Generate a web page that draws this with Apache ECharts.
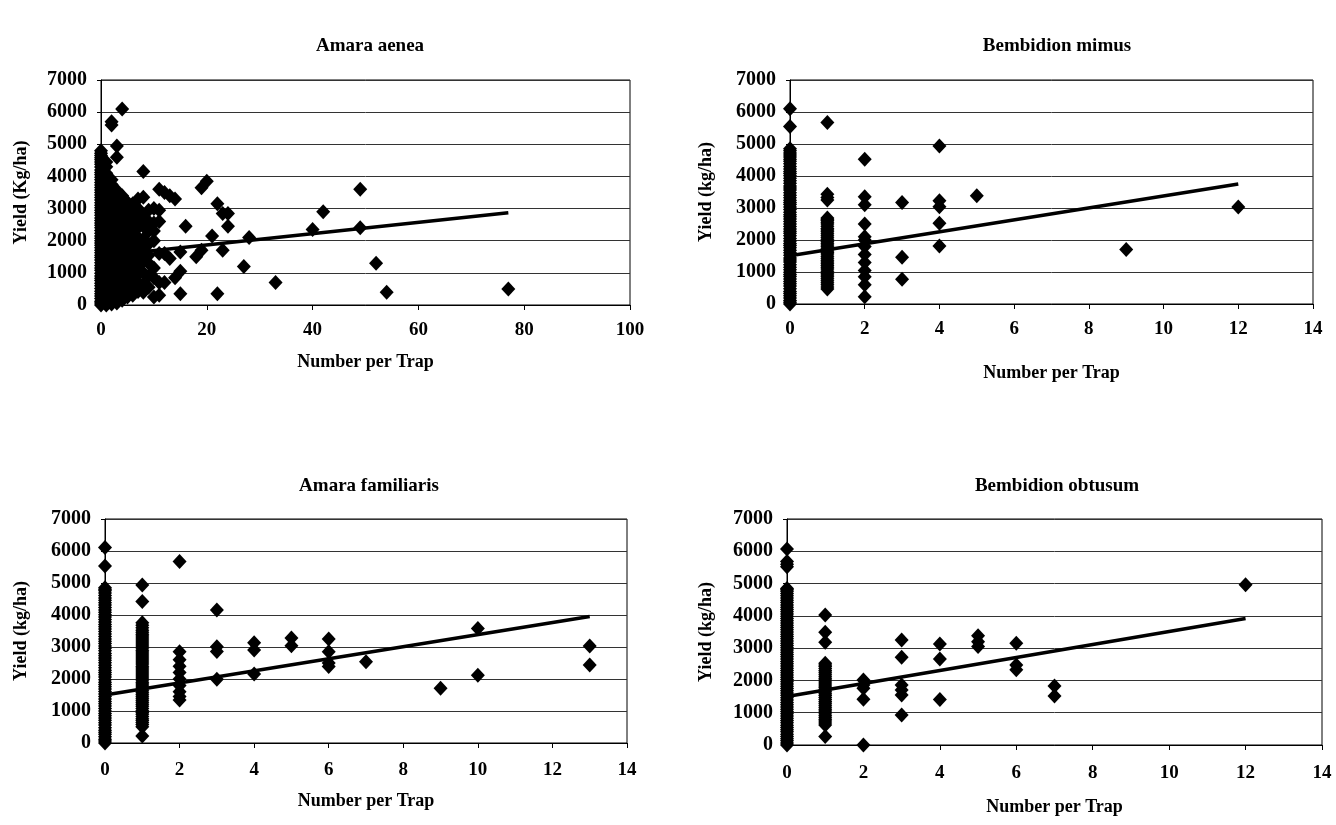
<!DOCTYPE html>
<html><head><meta charset="utf-8">
<script src="https://cdn.jsdelivr.net/npm/echarts/dist/echarts.min.js"></script>
<style>html,body{margin:0;padding:0;background:#fff}#c{width:1336px;height:825px}</style>
</head><body><div id="c"></div>
<script>
// ---------- DATA ----------
const titles = ['Amara aenea', 'Bembidion mimus', 'Amara familiaris', 'Bembidion obtusum'];
const yNames = ['Yield (Kg/ha)', 'Yield (kg/ha)', 'Yield (kg/ha)', 'Yield (kg/ha)'];
const xName = 'Number per Trap';
const xMax = [100, 14, 14, 14];
const xStep = [20, 2, 2, 2];
const yMax = 7000, yStep = 1000;

// Amara aenea: [number per trap, yields...]
const aeneaCols = [
  [0, [0,120,280,430,600,760,900,1080,1230,1400,1550,1700,1860,2000,2150,2320,2480,2630,2790,2950,3100,3270,3420,3580,3730,3900,4050,4200,4380,4520,4650,4800]],
  [0, [60,200,350,515,680,830,990,1155,1315,1475,1625,1780,1930,2075,2235,2400,2555,2710,2870,3025,3185,3345,3500,3655,3815,3975,4125,4290,4450,4585,4725]],
  [1, [0,180,350,520,680,850,1020,1180,1350,1500,1680,1840,2000,2170,2330,2500,2650,2820,2980,3150,3300,3480,3640,3800,3950,4100,4300,4450]],
  [2, [30,200,380,550,720,900,1060,1230,1400,1570,1740,1900,2080,2250,2420,2580,2750,2920,3080,3250,3420,3580,3750,3900,5600,5700]],
  [3, [60,240,420,600,770,950,1120,1300,1470,1650,1820,2000,2170,2350,2520,2700,2870,3050,3220,3400,3560,4600,4950]],
  [4, [150,330,520,700,880,1060,1240,1420,1600,1780,1960,2140,2320,2500,2680,2860,3040,3220,3400,6100]],
  [5, [250,450,650,850,1050,1250,1450,1650,1850,2050,2250,2450,2650,2850,3050,3200]],
  [6, [300,520,740,960,1180,1400,1620,1840,2060,2280,2500,2720,2950,3150]],
  [7, [420,700,950,1250,1500,1800,2100,2400,2700,3000,3300]],
  [8, [400,650,1000,1350,1700,2050,2450,2800,3350,4150]],
  [9, [550,900,1300,1550,1900,2300,2600,2950]],
  [10, [250,850,1150,2000,2300,2550,3000]],
  [11, [300,700,1600,2600,2950,3600]],
  [12, [700,1600,3500]],
  [13, [1450,3400]],
  [14, [850,3300]],
  [15, [350,1050,1650]],
  [16, [2450]],
  [18, [1500]],
  [19, [1700,3650]],
  [20, [3850]],
  [21, [2150]],
  [22, [350,3150]],
  [23, [1700,2850]],
  [24, [2450,2850]],
  [27, [1200]],
  [28, [2100]],
  [33, [700]],
  [40, [2350]],
  [42, [2900]],
  [49, [2400,3600]],
  [52, [1300]],
  [54, [400]],
  [77, [500]]
];
const mimusCols = [
  [0, [0,110,260,390,560,700,860,990,1150,1310,1440,1600,1760,1890,2050,2210,2340,2500,2660,2790,2950,3110,3240,3400,3560,3690,3850,4010,4140,4300,4460,4590,4720,4850,5550,6100]],
  [0, [55,185,325,475,630,780,925,1070,1230,1375,1520,1680,1825,1970,2130,2275,2420,2580,2725,2870,3030,3175,3320,3480,3625,3770,3930,4075,4220,4380,4525,4655,4790]],
  [1, [470,600,730,850,960,1090,1200,1310,1430,1560,1660,1790,1900,2010,2130,2260,2360,2500,2610,2690,3250,3330,3430,5670]],
  [1, [535,665,790,905,1025,1145,1255,1370,1495,1610,1725,1845,1955,2070,2195,2310,2430,2555,2650]],
  [2, [230,600,850,1050,1300,1550,1800,2000,2100,2500,3100,3350,4520]],
  [3, [770,1460,3170]],
  [4, [1810,2520,3040,3230,4940]],
  [5, [3380]],
  [9, [1700]],
  [12, [3030]]
];
const familiarisCols = [
  [0, [0,120,270,400,560,710,850,1000,1160,1300,1450,1610,1760,1900,2060,2200,2350,2510,2660,2800,2960,3110,3250,3410,3560,3700,3860,4010,4160,4310,4460,4610,4760,4850,5530,6110]],
  [0, [60,195,335,480,635,780,925,1080,1230,1375,1530,1685,1830,1980,2130,2275,2430,2585,2730,2880,3035,3180,3330,3485,3630,3780,3935,4085,4235,4385,4535,4685,4805]],
  [1, [220,510,640,760,900,1010,1150,1270,1400,1520,1650,1780,1900,2030,2160,2280,2400,2530,2660,2780,2900,3030,3160,3280,3400,3520,3760,4420,4940]],
  [1, [575,700,830,955,1080,1210,1335,1460,1585,1715,1840,1965,2095,2220,2340,2465,2595,2720,2840,2965,3095,3220,3340,3460,3600,3680]],
  [2, [1340,1450,1600,1800,2000,2200,2400,2600,2850,5670]],
  [3, [1990,2860,3010,4160]],
  [4, [2160,2910,3130]],
  [5, [3040,3280]],
  [6, [2390,2500,2850,3250]],
  [7, [2540]],
  [9, [1710]],
  [10, [2120,3580]],
  [13, [2440,3030]]
];
const obtusumCols = [
  [0, [0,130,260,410,540,690,830,970,1110,1250,1390,1540,1680,1820,1960,2100,2240,2380,2520,2660,2800,2940,3080,3220,3360,3500,3640,3780,3920,4060,4200,4340,4480,4620,4760,4850,5520,5680,6070]],
  [0, [65,195,335,475,615,760,900,1040,1180,1320,1465,1610,1750,1890,2030,2170,2310,2450,2590,2730,2870,3010,3150,3290,3430,3570,3710,3850,3990,4130,4270,4410,4550,4690,4805,5600]],
  [1, [260,620,740,860,990,1110,1230,1350,1470,1590,1710,1830,1950,2070,2190,2310,2430,2530,3180,3490,4030]],
  [1, [680,800,925,1050,1170,1290,1410,1530,1650,1770,1890,2010,2130,2250,2370,2480]],
  [2, [0,1420,1760,1860,2010]],
  [3, [930,1550,1700,1860,2720,3250]],
  [4, [1410,2660,3130]],
  [5, [3050,3200,3380]],
  [6, [2330,2480,3150]],
  [7, [1520,1830]],
  [12, [4960]]
];
// Trend lines: [x, yield] at both ends
const aeneaTrend = [[0, 1520], [77, 2870]];
const mimusTrend = [[0, 1510], [12, 3750]];
const familiarisTrend = [[0, 1500], [13, 3950]];
const obtusumTrend = [[0, 1500], [12, 3920]];

// ---------- LAYOUT ----------
const allCols = [aeneaCols, mimusCols, familiarisCols, obtusumCols];
const allTrends = [aeneaTrend, mimusTrend, familiarisTrend, obtusumTrend];
const grids = [
  {left: 101, top: 80, width: 529, height: 225},
  {left: 790, top: 80, width: 523, height: 224},
  {left: 105, top: 519, width: 522, height: 224},
  {left: 787, top: 519, width: 535, height: 226}
];
const titlePos = [[365, 32], [1052, 32], [364, 472], [1052, 472]];
const yNameGap = [71, 75, 75, 72];
const xNameGap = [48, 60, 49, 53];
const xLabelMargin = [16, 16, 18, 19];

const FONT = '"Liberation Serif", "Times New Roman", serif';
const txt = (size) => ({fontFamily: FONT, fontWeight: 'bold', fontSize: size, color: '#000'});

function toPoints(cols) {
  const pts = [];
  cols.forEach(([x, ys]) => ys.forEach(y => pts.push([x, y])));
  return pts;
}

const option = {
  animation: false,
  backgroundColor: '#fff',
  title: titles.map((t, i) => ({
    text: t, left: titlePos[i][0], top: titlePos[i][1], textAlign: 'center',
    textStyle: txt(19)
  })),
  grid: grids.map(g => Object.assign({show: true, borderColor: '#000', borderWidth: 1, backgroundColor: 'transparent'}, g)),
  xAxis: grids.map((g, i) => ({
    gridIndex: i, type: 'value', min: 0, max: xMax[i], interval: xStep[i],
    name: xName, nameLocation: 'middle', nameGap: xNameGap[i], nameTextStyle: txt(18),
    axisLine: {show: true, onZero: false, lineStyle: {color: '#000', width: 1}},
    axisTick: {show: true, length: 5, lineStyle: {color: '#000'}},
    axisLabel: Object.assign({margin: xLabelMargin[i], formatter: v => String(v)}, txt(19)),
    splitLine: {show: false}
  })),
  yAxis: grids.map((g, i) => ({
    gridIndex: i, type: 'value', min: 0, max: yMax, interval: yStep,
    name: yNames[i], nameLocation: 'middle', nameGap: yNameGap[i], nameTextStyle: txt(18),
    axisLine: {show: true, onZero: false, lineStyle: {color: '#000', width: 1}},
    axisTick: {show: true, length: 4, lineStyle: {color: '#000'}},
    axisLabel: Object.assign({margin: 14, formatter: v => String(v)}, txt(20)),
    splitLine: {show: true, lineStyle: {color: '#333', width: 1}}
  })),
  series: []
};
allCols.forEach((cols, i) => {
  option.series.push({
    type: 'scatter', xAxisIndex: i, yAxisIndex: i, data: toPoints(cols),
    symbol: 'diamond', symbolSize: [14, 15], itemStyle: {color: '#000', opacity: 1}, z: 3
  });
  option.series.push({
    type: 'line', xAxisIndex: i, yAxisIndex: i, data: allTrends[i],
    symbol: 'none', lineStyle: {color: '#000', width: 3.5}, z: 4
  });
});

const chart = echarts.init(document.getElementById('c'), null, {renderer: 'canvas'});
chart.setOption(option);
</script></body></html>
